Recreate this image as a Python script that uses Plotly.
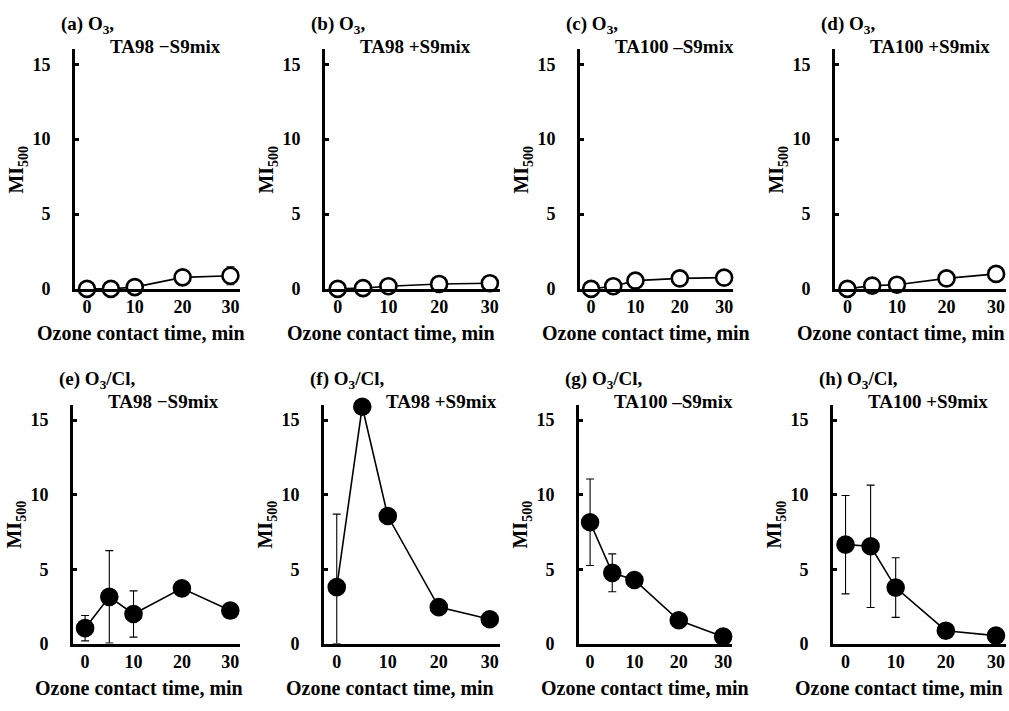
import plotly.graph_objects as go
from plotly.subplots import make_subplots

# ---- data ----
time_min = [0, 5, 10, 20, 30]

panel_labels = ["(a) O<sub>3</sub>,", "(b) O<sub>3</sub>,", "(c) O<sub>3</sub>,", "(d) O<sub>3</sub>,",
                "(e) O<sub>3</sub>/Cl,", "(f) O<sub>3</sub>/Cl,", "(g) O<sub>3</sub>/Cl,", "(h) O<sub>3</sub>/Cl,"]
strain_labels = ["TA98 \u2212S9mix", "TA98 +S9mix", "TA100 \u2013S9mix", "TA100 +S9mix",
                 "TA98 \u2212S9mix", "TA98 +S9mix", "TA100 \u2013S9mix", "TA100 +S9mix"]

mi_a = [0.0, 0.0, 0.12, 0.77, 0.88]
err_a = [0.0, 0.0, 0.0, 0.3, 0.6]
mi_b = [0.0, 0.05, 0.18, 0.33, 0.38]
err_b = [0.0, 0.0, 0.05, 0.05, 0.05]
mi_c = [0.0, 0.18, 0.55, 0.70, 0.75]
err_c = [0.0, 0.05, 0.05, 0.05, 0.05]
mi_d = [0.0, 0.22, 0.28, 0.70, 1.0]
err_d = [0.0, 0.05, 0.05, 0.25, 0.35]
mi_e = [1.05, 3.15, 2.0, 3.72, 2.23]
err_e = [0.85, 3.1, 1.55, 0.0, 0.0]
mi_f = [3.8, 15.9, 8.57, 2.46, 1.65]
err_f = [4.9, 0.0, 0.0, 0.0, 0.0]
mi_g = [8.15, 4.76, 4.28, 1.58, 0.48]
err_g = [2.9, 1.27, 0.0, 0.45, 0.1]
mi_h = [6.65, 6.54, 3.77, 0.88, 0.55]
err_h = [3.3, 4.1, 2.0, 0.5, 0.0]

series = [(mi_a, err_a), (mi_b, err_b), (mi_c, err_c), (mi_d, err_d),
          (mi_e, err_e), (mi_f, err_f), (mi_g, err_g), (mi_h, err_h)]

x_ticks = [0, 10, 20, 30]
y_ticks = [0, 5, 10, 15]

# ---- layout geometry (page pixels) ----
W, H = 1009, 711
x_dom_px = [(75, 240), (325, 500), (580, 733), (835, 1006),
            (73, 240), (324, 500), (579, 732), (833, 1006)]
y_dom_px = [(50, 293), (411, 653)]  # (top, bottom) pixel for y=16 and y=0


def fx(px):
    return px / W


def fy(py):
    return 1 - py / H


FONT = "Liberation Serif, Times New Roman, serif"

fig = make_subplots(rows=2, cols=4)

for i, (vals, errs) in enumerate(series):
    r = i // 4 + 1
    c = i % 4 + 1
    filled = i >= 4
    minus = [min(e, v) for e, v in zip(errs, vals)]
    fig.add_trace(go.Scatter(
        x=time_min, y=vals, mode="lines+markers",
        line=dict(color="black", width=1.6),
        marker=dict(size=16, symbol="circle",
                    color="black" if filled else "white",
                    line=dict(color="black", width=2.6)),
        error_y=dict(type="data", array=errs, arrayminus=minus, symmetric=False,
                     color="black", thickness=1.1, width=4, visible=True),
        cliponaxis=False, showlegend=False, hoverinfo="skip",
    ), row=r, col=c)

tick_font = dict(family=FONT, size=18, color="black", weight="bold")

for i in range(8):
    sfx = "" if i == 0 else str(i + 1)
    x0, x1 = x_dom_px[i]
    yt, yb = y_dom_px[i // 4]
    fig.layout["xaxis" + sfx].update(
        domain=[fx(x0), fx(x1)], range=[-2.5, 32], tickvals=x_ticks,
        showline=True, linecolor="black", linewidth=3, showgrid=False, zeroline=False,
        ticks="", tickfont=tick_font, ticklabelstandoff=0,
    )
    fig.layout["yaxis" + sfx].update(
        domain=[fy(yb), fy(yt)], range=[0, 16], tickvals=y_ticks,
        showline=True, linecolor="black", linewidth=3, showgrid=False, zeroline=False,
        ticks="inside", ticklen=4, tickwidth=3, tickcolor="black",
        tickfont=tick_font, ticklabelstandoff=18,
    )
    row_off = 0 if i < 4 else 360
    # panel titles
    fig.add_annotation(x=fx(x0 - 16), y=fy(row_off + 25), xref="paper", yref="paper",
                       text="<b>" + panel_labels[i] + "</b>", showarrow=False,
                       xanchor="left", yanchor="middle",
                       font=dict(family=FONT, size=19, color="black"))
    shift = 60 if i == 5 else 33
    fig.add_annotation(x=fx(x0 + shift), y=fy(row_off + 47), xref="paper", yref="paper",
                       text="<b>" + strain_labels[i] + "</b>", showarrow=False,
                       xanchor="left", yanchor="middle",
                       font=dict(family=FONT, size=19, color="black"))
    # y-axis title
    fig.add_annotation(x=fx(x0 - 57), y=fy(row_off + 172), xref="paper", yref="paper",
                       text="<b>MI<sub>500</sub></b>", showarrow=False, textangle=-90,
                       xanchor="center", yanchor="middle",
                       font=dict(family=FONT, size=20, color="black"))
    # x-axis title
    fig.add_annotation(x=fx(x0 + 66), y=fy(row_off + 338), xref="paper", yref="paper",
                       text="<b>Ozone contact time, min</b>", showarrow=False,
                       xanchor="center", yanchor="middle",
                       font=dict(family=FONT, size=20, color="black"))

fig.update_layout(
    width=W, height=H, margin=dict(l=0, r=0, t=0, b=0),
    paper_bgcolor="white", plot_bgcolor="white",
    font=dict(family=FONT, color="black"),
    hovermode=False,
)

fig.write_html("out.html",
               config={"displayModeBar": False},
               post_script="document.body.style.margin='0';document.body.style.overflow='hidden';")
